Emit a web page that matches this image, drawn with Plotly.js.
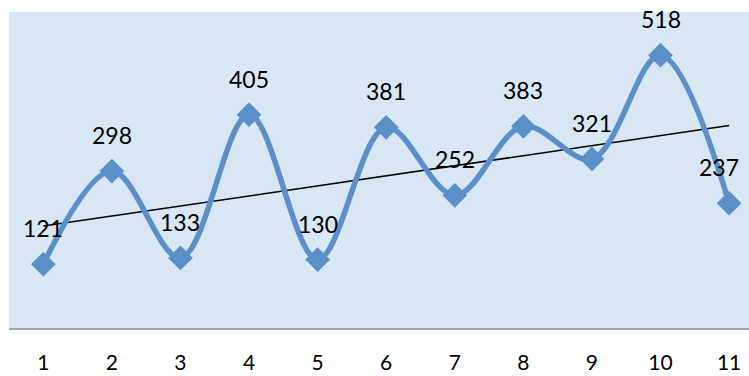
<!DOCTYPE html>
<html>
<head>
<meta charset="utf-8">
<script src="https://cdn.plot.ly/plotly-3.0.1.min.js"></script>
<style>html,body{margin:0;padding:0;background:#fff;overflow:hidden}#chart{width:749px;height:376px}</style>
</head>
<body>
<div id="chart"></div>
<script>
const categories = [1, 2, 3, 4, 5, 6, 7, 8, 9, 10, 11];
const values = [121, 298, 133, 405, 130, 381, 252, 383, 321, 518, 237];
const tickLabels = ['1','2','3','4','5','6','7','8','9','10','11'];

// linear trendline (least squares) of the series
const n = categories.length;
const mx = categories.reduce((a,b)=>a+b,0)/n;
const my = values.reduce((a,b)=>a+b,0)/n;
let sxy = 0, sxx = 0;
for (let i=0;i<n;i++){ sxy += (categories[i]-mx)*(values[i]-my); sxx += (categories[i]-mx)**2; }
const slope = sxy/sxx, icpt = my - slope*mx;
const trendX = [categories[0], categories[n-1]];
const trendY = trendX.map(x => icpt + slope*x);

const font = 'Lato, "Open Sans", sans-serif';
const traces = [
  {x: trendX, y: trendY, mode: 'lines', line: {color: '#000', width: 1.5}, hoverinfo: 'skip', showlegend: false},
  {x: categories, y: values, mode: 'lines+markers', line: {color: '#5b8fc8', width: 5.5, shape: 'spline', smoothing: 1},
   marker: {symbol: 'diamond', size: 19, color: '#5b8fc8'}, showlegend: false}
];
const annotations = categories.map((c,i)=>({
  x: c, y: values[i], text: String(values[i]), showarrow: false, yshift: 36,
  xshift: i === n-1 ? -10 : 0,
  font: {family: font, size: 23, color: '#000'}
}));
const layout = {
  width: 749, height: 376,
  margin: {l: 9, r: 0, t: 12, b: 48},
  paper_bgcolor: '#fff', plot_bgcolor: '#d9e7f5',
  xaxis: {range: [0.5, 11.29], tickvals: categories, ticktext: tickLabels, showgrid: false, zeroline: false,
          showline: true, linecolor: '#a6a6a6', linewidth: 2, ticks: '', ticklabelstandoff: 15,
          tickfont: {family: font, size: 21, color: '#000'}},
  yaxis: {range: [0, 600], showgrid: false, zeroline: false, showticklabels: false, showline: false},
  annotations: annotations,
  font: {family: font}
};
Plotly.newPlot('chart', traces, layout, {displayModeBar: false, staticPlot: true});
</script>
</body>
</html>
